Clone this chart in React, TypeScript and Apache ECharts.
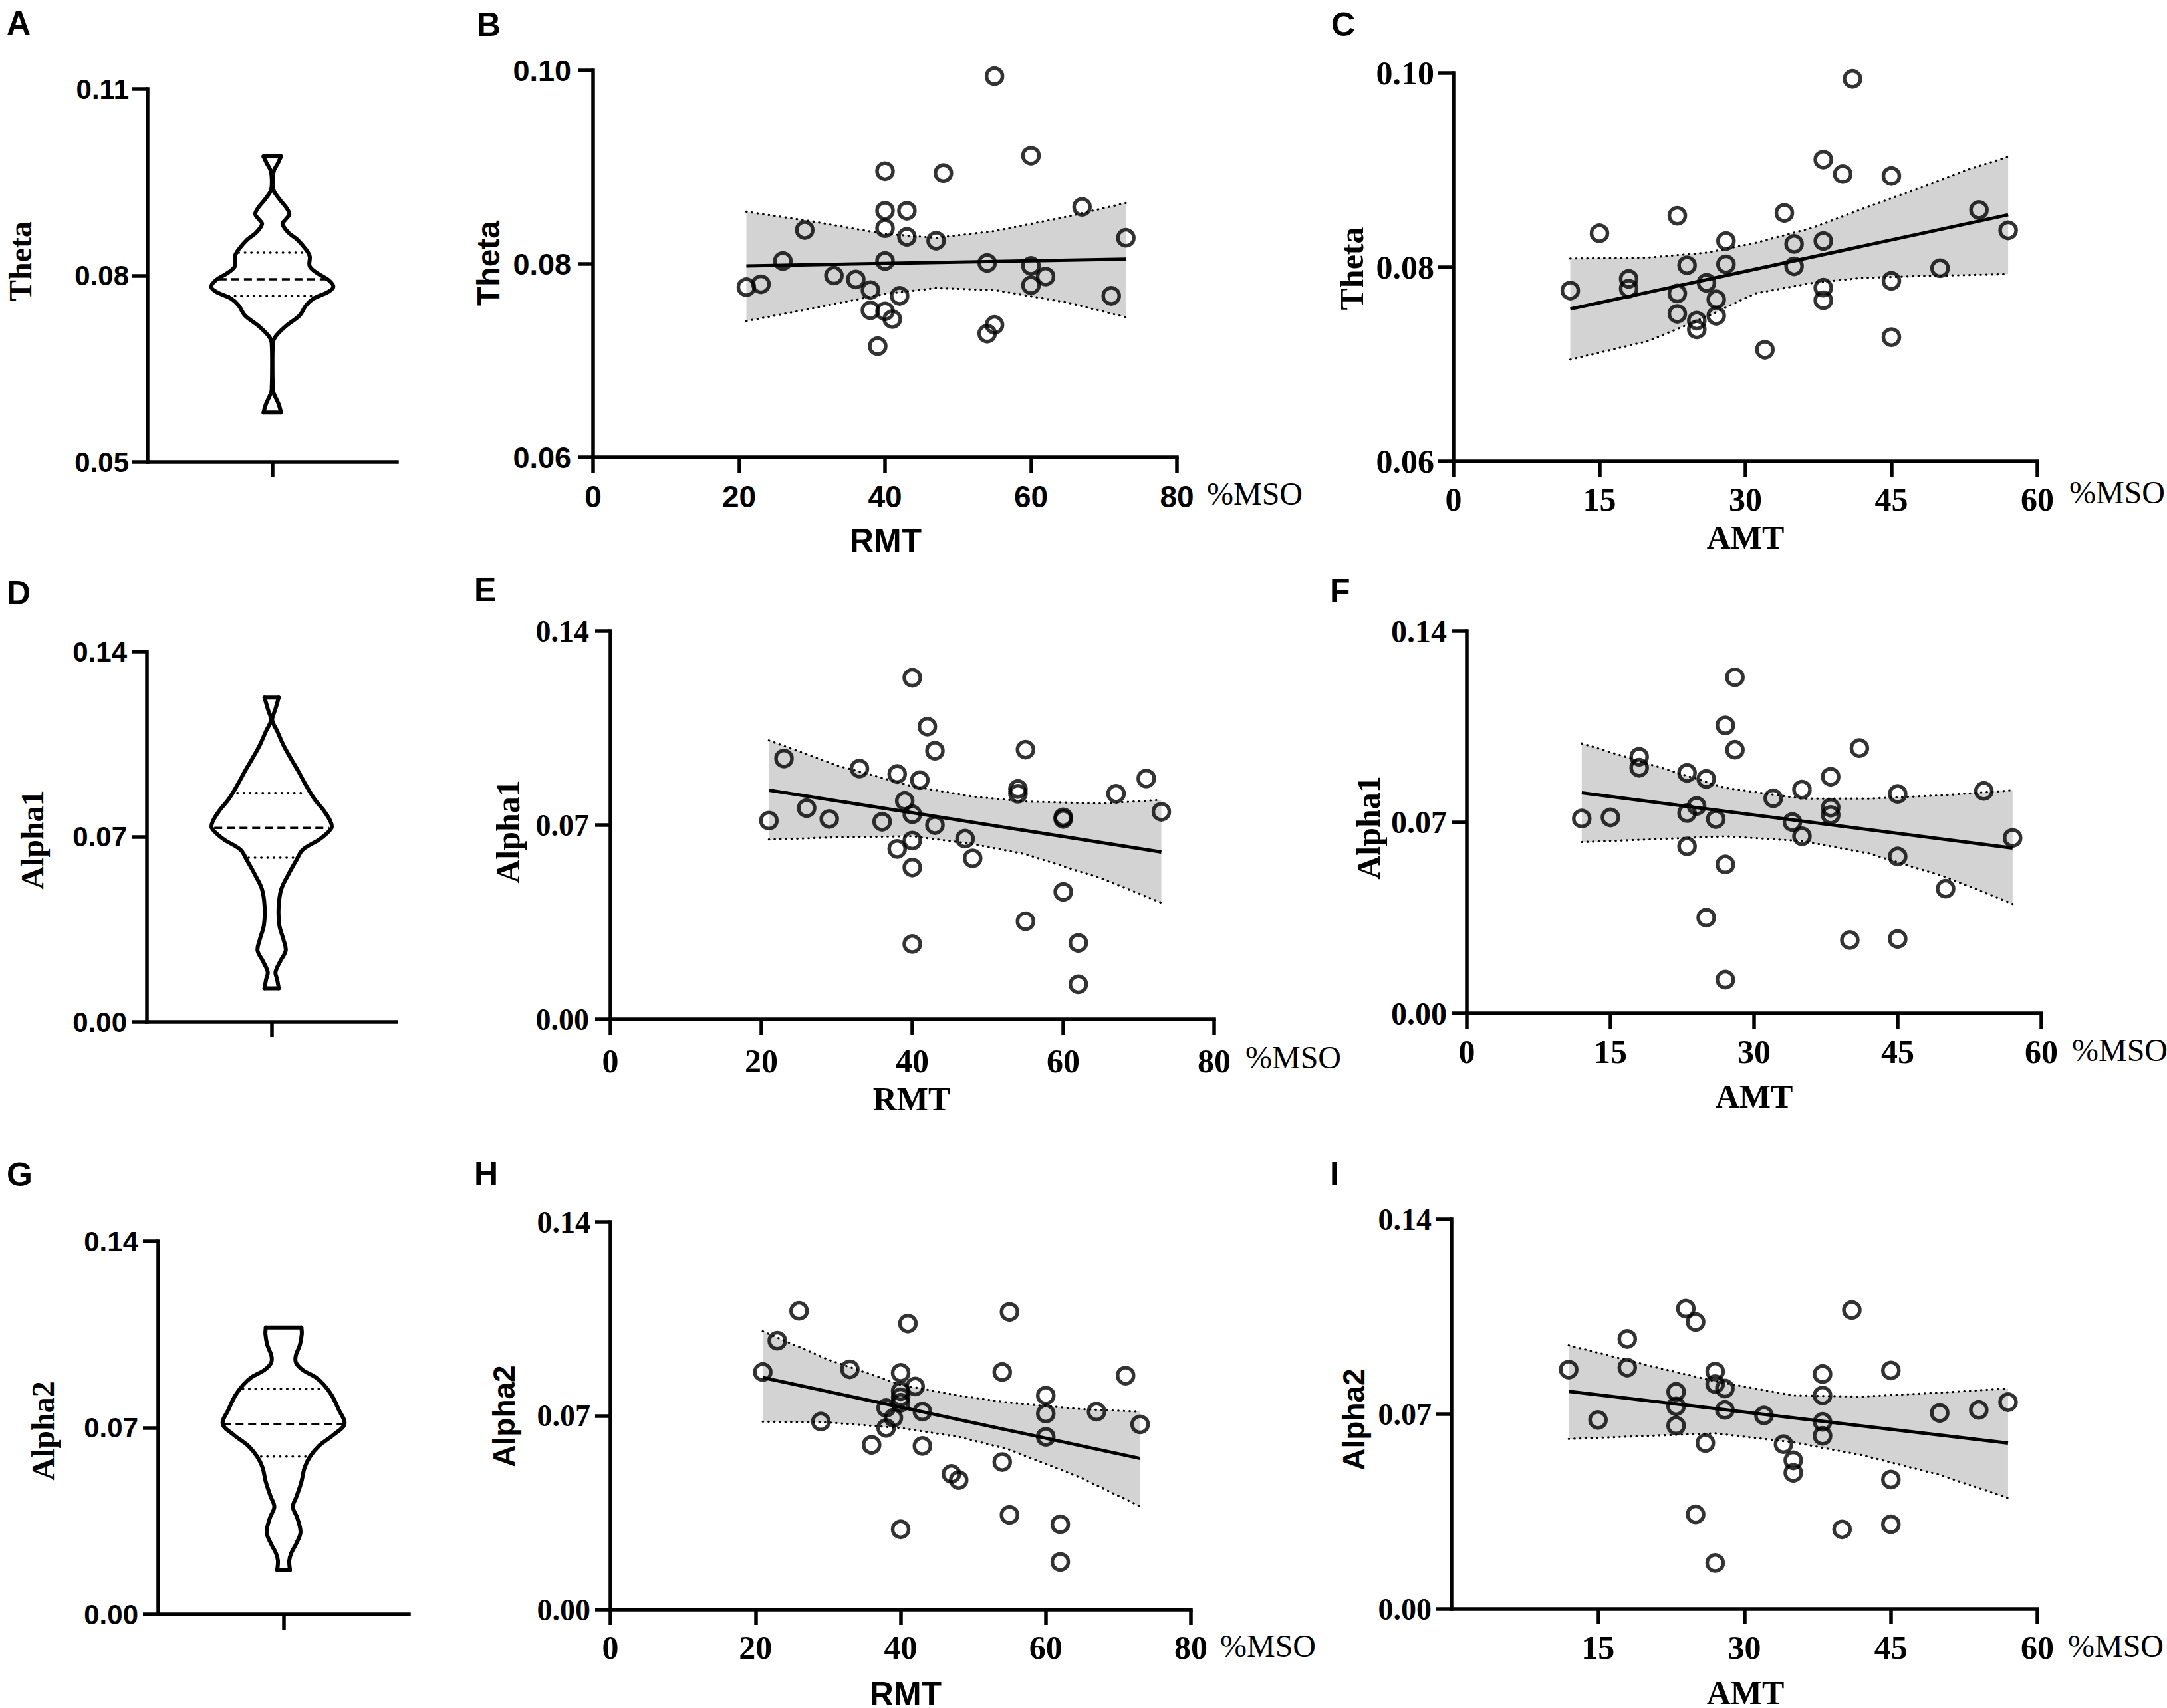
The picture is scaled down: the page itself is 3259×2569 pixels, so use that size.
import React, { useEffect, useRef } from "react";
import * as echarts from "echarts";

const W = 3259;
const H = 2569;

const SANS = "'Liberation Sans', Arial, Helvetica, sans-serif";
const NARROW = "'Liberation Sans Narrow', 'Liberation Sans', Arial, sans-serif";
const SERIF = "'Liberation Serif', 'Times New Roman', Times, serif";
const GRAY = "#d3d3d3";

// ---------- tick values ----------
const thetaViolinTicks = [0.05, 0.08, 0.11];
const thetaTicks = [0.06, 0.08, 0.1];
const alphaTicks = [0, 0.07, 0.14];
const rmtTicks = [0, 20, 40, 60, 80];
const amtTicks = [0, 15, 30, 45, 60];
const amtTicksNoZero = [15, 30, 45, 60];
const violinCenterTick = [0];

// ---------- violin profiles (value, half width in axis units) ----------
const thetaViolinY = [0.0992, 0.0981, 0.097, 0.0959, 0.0943, 0.0935, 0.0921, 0.091, 0.0899, 0.0891, 0.0883, 0.0869, 0.0858, 0.0842, 0.0831, 0.0815, 0.0804, 0.0793, 0.0782, 0.0774, 0.0763, 0.0752, 0.0736, 0.0719, 0.0703, 0.0692, 0.0616, 0.0607, 0.0594, 0.058];
const thetaViolinHW = [0.07, 0.045, 0.015, 0.005, 0.005, 0.015, 0.065, 0.11, 0.137, 0.11, 0.082, 0.13, 0.2, 0.27, 0.3, 0.3, 0.36, 0.45, 0.49, 0.45, 0.33, 0.27, 0.22, 0.11, 0.03, 0.005, 0.005, 0.02, 0.05, 0.07];
const thetaQuartY = [0.0837, 0.0794, 0.0767];
const thetaQuartHW = [0.27, 0.43, 0.35];

const alpha1ViolinY = [0.1226, 0.1182, 0.1141, 0.11, 0.1046, 0.0991, 0.0951, 0.0896, 0.0842, 0.0801, 0.076, 0.0733, 0.0692, 0.0651, 0.061, 0.0556, 0.0501, 0.0433, 0.0365, 0.0311, 0.027, 0.0229, 0.0188, 0.0161, 0.0127];
const alpha1ViolinHW = [0.057, 0.03, 0.005, 0.044, 0.095, 0.16, 0.21, 0.274, 0.344, 0.415, 0.47, 0.48, 0.39, 0.25, 0.197, 0.133, 0.077, 0.056, 0.062, 0.095, 0.113, 0.069, 0.031, 0.044, 0.057];
const alpha1QuartY = [0.0865, 0.0733, 0.0621];
const alpha1QuartHW = [0.275, 0.46, 0.185];

const alpha2ViolinY = [0.1076, 0.1051, 0.1011, 0.097, 0.0943, 0.0916, 0.0889, 0.0862, 0.0822, 0.0768, 0.0714, 0.0673, 0.0632, 0.0592, 0.0551, 0.0497, 0.0443, 0.0403, 0.0362, 0.0308, 0.0268, 0.0227, 0.02, 0.0166];
const alpha2ViolinHW = [0.142, 0.145, 0.13, 0.097, 0.1, 0.155, 0.257, 0.32, 0.384, 0.44, 0.486, 0.397, 0.282, 0.211, 0.168, 0.142, 0.104, 0.074, 0.109, 0.135, 0.104, 0.059, 0.045, 0.051];
const alpha2QuartY = [0.0846, 0.0714, 0.0592];
const alpha2QuartHW = [0.325, 0.484, 0.18];

// ---------- scatter data ----------
const thetaRmtX = [21, 23, 26, 29, 33, 36, 38, 38, 39, 40, 40, 40, 40, 40, 41, 42, 43, 43, 47, 48, 54, 54, 55, 55, 60, 60, 60, 62, 67, 71, 73];
const thetaRmtY = [0.0776, 0.0779, 0.0803, 0.0835, 0.0788, 0.0784, 0.0773, 0.0752, 0.0715, 0.0896, 0.0855, 0.0837, 0.0803, 0.0751, 0.0743, 0.0767, 0.0855, 0.0828, 0.0824, 0.0894, 0.0801, 0.0728, 0.0737, 0.0994, 0.0912, 0.0798, 0.0778, 0.0787, 0.0859, 0.0767, 0.0827];
const thetaRmtFitX = [21, 73];
const thetaRmtFitY = [0.0798, 0.0805];
const thetaRmtBandX = [21, 30, 40, 47, 55, 65, 73];
const thetaRmtBandUp = [0.0854, 0.0844, 0.0831, 0.0827, 0.0834, 0.0849, 0.0863];
const thetaRmtBandLo = [0.0741, 0.0754, 0.0769, 0.0775, 0.0773, 0.076, 0.0745];

const thetaAmtX = [12, 15, 18, 18, 23, 23, 23, 24, 25, 25, 26, 27, 27, 28, 28, 32, 34, 35, 35, 38, 38, 38, 38, 40, 41, 45, 45, 45, 50, 54, 57];
const thetaAmtY = [0.0776, 0.0835, 0.0788, 0.0778, 0.0853, 0.0773, 0.0752, 0.0802, 0.0745, 0.0736, 0.0784, 0.0767, 0.075, 0.0827, 0.0803, 0.0715, 0.0856, 0.0824, 0.0801, 0.0911, 0.0827, 0.0779, 0.0766, 0.0896, 0.0994, 0.0894, 0.0786, 0.0728, 0.0799, 0.0859, 0.0838];
const thetaAmtFitX = [12, 57];
const thetaAmtFitY = [0.0757, 0.0854];
const thetaAmtBandX = [12, 20, 26, 31, 37, 42, 48, 53, 57];
const thetaAmtBandUp = [0.0809, 0.081, 0.0815, 0.0825, 0.0841, 0.086, 0.0882, 0.0901, 0.0914];
const thetaAmtBandLo = [0.0705, 0.0724, 0.0749, 0.0773, 0.0784, 0.0789, 0.0791, 0.0792, 0.0793];

const alpha1RmtX = [21, 23, 26, 29, 33, 36, 38, 38, 39, 40, 40, 40, 40, 40, 41, 42, 43, 43, 47, 48, 54, 54, 55, 55, 60, 60, 60, 62, 62, 67, 71, 73];
const alpha1RmtY = [0.0716, 0.094, 0.0761, 0.0722, 0.0904, 0.0712, 0.0884, 0.0614, 0.0787, 0.1231, 0.0739, 0.0644, 0.0547, 0.0271, 0.0862, 0.1055, 0.0968, 0.07, 0.0651, 0.058, 0.083, 0.0813, 0.0972, 0.0353, 0.0728, 0.0722, 0.0459, 0.0275, 0.0126, 0.0813, 0.0868, 0.0748];
const alpha1RmtFitX = [21, 73];
const alpha1RmtFitY = [0.0826, 0.0603];
const alpha1RmtBandX = [21, 30, 40, 48, 55, 65, 73];
const alpha1RmtBandUp = [0.1005, 0.0915, 0.084, 0.0803, 0.0785, 0.0778, 0.0791];
const alpha1RmtBandLo = [0.0648, 0.0656, 0.066, 0.0632, 0.0595, 0.0508, 0.042];

const alpha1AmtX = [12, 15, 18, 18, 23, 23, 23, 24, 25, 25, 26, 27, 27, 27, 28, 28, 32, 34, 35, 35, 38, 38, 38, 40, 41, 45, 45, 45, 50, 54, 57];
const alpha1AmtY = [0.0713, 0.0717, 0.0939, 0.0899, 0.088, 0.0733, 0.0611, 0.0759, 0.0858, 0.035, 0.0711, 0.1054, 0.0545, 0.0123, 0.123, 0.0965, 0.0787, 0.07, 0.0819, 0.0648, 0.0866, 0.0753, 0.0726, 0.0268, 0.0971, 0.0803, 0.0574, 0.0272, 0.0456, 0.0814, 0.0642];
const alpha1AmtFitX = [12, 57];
const alpha1AmtFitY = [0.0807, 0.0605];
const alpha1AmtBandX = [12, 20, 27, 35, 42, 50, 57];
const alpha1AmtBandUp = [0.0988, 0.0902, 0.0825, 0.0786, 0.0786, 0.0799, 0.0816];
const alpha1AmtBandLo = [0.0627, 0.0638, 0.0648, 0.0631, 0.0585, 0.0499, 0.04];

const alpha2RmtX = [21, 23, 26, 29, 33, 36, 38, 38, 39, 40, 40, 40, 40, 40, 41, 42, 43, 43, 47, 48, 54, 54, 55, 55, 60, 60, 60, 62, 62, 67, 71, 73];
const alpha2RmtY = [0.0858, 0.0971, 0.1079, 0.0679, 0.0868, 0.0595, 0.0728, 0.0656, 0.0693, 0.0855, 0.0789, 0.0767, 0.0747, 0.029, 0.1033, 0.0806, 0.0715, 0.0591, 0.049, 0.0468, 0.0858, 0.0533, 0.1075, 0.0342, 0.0773, 0.0708, 0.0624, 0.0308, 0.0172, 0.0715, 0.0845, 0.0669];
const alpha2RmtFitX = [21, 73];
const alpha2RmtFitY = [0.0838, 0.0546];
const alpha2RmtBandX = [21, 30, 40, 48, 55, 65, 73];
const alpha2RmtBandUp = [0.1005, 0.0903, 0.0812, 0.0773, 0.0747, 0.0724, 0.0715];
const alpha2RmtBandLo = [0.0679, 0.0676, 0.0656, 0.0624, 0.0578, 0.0474, 0.0373];

const alpha2AmtX = [12, 15, 18, 18, 23, 23, 23, 24, 25, 25, 26, 27, 27, 27, 28, 28, 32, 34, 35, 35, 38, 38, 38, 38, 40, 41, 45, 45, 45, 50, 54, 57];
const alpha2AmtY = [0.086, 0.0679, 0.097, 0.0867, 0.078, 0.0728, 0.0659, 0.1079, 0.1031, 0.034, 0.0596, 0.0853, 0.0808, 0.0165, 0.0792, 0.0715, 0.0695, 0.0592, 0.0534, 0.0489, 0.0844, 0.0767, 0.0672, 0.0622, 0.0286, 0.1074, 0.0857, 0.0465, 0.0304, 0.0704, 0.0715, 0.0743];
const alpha2AmtFitX = [12, 57];
const alpha2AmtFitY = [0.0782, 0.0596];
const alpha2AmtBandX = [12, 20, 27, 35, 42, 50, 57];
const alpha2AmtBandUp = [0.0947, 0.0876, 0.0818, 0.0767, 0.0763, 0.0777, 0.0792];
const alpha2AmtBandLo = [0.0611, 0.0622, 0.0631, 0.0599, 0.0553, 0.0482, 0.0398];

// ---------- layout (pixels) ----------
const grids = [
  { left: 222, top: 134, width: 375, height: 561 }, // A
  { left: 892, top: 106, width: 878, height: 582 }, // B
  { left: 2186, top: 110, width: 878, height: 584 }, // C
  { left: 221, top: 980, width: 375, height: 557 }, // D
  { left: 918, top: 949, width: 908, height: 584 }, // E
  { left: 2206, top: 949, width: 864, height: 575 }, // F
  { left: 238, top: 1867, width: 377, height: 561 }, // G
  { left: 918, top: 1838, width: 873, height: 583 }, // H
  { left: 2183, top: 1834, width: 881, height: 586 }, // I
];

const AXW = 5.5;
const TICKLEN = 23;

function xAxisOf(gi: number, min: number, max: number, ticks: number[], font: string, size: number, margin: number, showLabel = true) {
  return {
    type: "value",
    gridIndex: gi,
    min,
    max,
    position: "bottom",
    axisLine: { show: true, onZero: false, lineStyle: { color: "#000", width: AXW, cap: "square" } },
    axisTick: { show: true, inside: false, length: TICKLEN, customValues: ticks, lineStyle: { color: "#000", width: AXW } },
    axisLabel: {
      show: showLabel,
      customValues: ticks,
      margin,
      color: "#000",
      fontFamily: font,
      fontWeight: "bold",
      fontSize: size,
      showMinLabel: true,
      showMaxLabel: true,
      formatter: (v: number) => String(v),
    },
    splitLine: { show: false },
  };
}

function yAxisOf(gi: number, min: number, max: number, ticks: number[], font: string, size: number, margin = 30) {
  return {
    type: "value",
    gridIndex: gi,
    min,
    max,
    position: "left",
    axisLine: { show: true, onZero: false, lineStyle: { color: "#000", width: AXW, cap: "square" } },
    axisTick: { show: true, inside: false, length: TICKLEN, customValues: ticks, lineStyle: { color: "#000", width: AXW } },
    axisLabel: {
      show: true,
      customValues: ticks,
      margin,
      color: "#000",
      fontFamily: font,
      fontWeight: "bold",
      fontSize: size,
      showMinLabel: true,
      showMaxLabel: true,
      formatter: (v: number) => v.toFixed(2),
    },
    splitLine: { show: false },
  };
}

function violinSeries(gi: number, vy: number[], vhw: number[], qy: number[], qhw: number[]) {
  return {
    type: "custom",
    coordinateSystem: "cartesian2d",
    xAxisIndex: gi,
    yAxisIndex: gi,
    silent: true,
    z: 3,
    data: vy.map((y, i) => [vhw[i], y]),
    renderItem: (params: any, api: any) => {
      if (params.dataIndex !== 0) return null;
      const n = vy.length;
      const right = vy.map((y, i) => api.coord([vhw[i], y]));
      const left = vy.map((y, i) => api.coord([-vhw[i], y]));
      const outline = { stroke: "#000", lineWidth: 6, fill: "none", lineJoin: "round", lineCap: "round" };
      const children: any[] = [
        { type: "polyline", shape: { points: right, smooth: 0.35 }, style: outline },
        { type: "polyline", shape: { points: left, smooth: 0.35 }, style: outline },
        { type: "line", shape: { x1: left[0][0], y1: left[0][1], x2: right[0][0], y2: right[0][1] }, style: outline },
        { type: "line", shape: { x1: left[n - 1][0], y1: left[n - 1][1], x2: right[n - 1][0], y2: right[n - 1][1] }, style: outline },
      ];
      qy.forEach((q, i) => {
        const a = api.coord([-qhw[i], q]);
        const b = api.coord([qhw[i], q]);
        const median = i === 1;
        children.push({
          type: "line",
          shape: { x1: a[0], y1: a[1], x2: b[0], y2: b[1] },
          style: {
            stroke: "#000",
            lineWidth: 3.5,
            lineDash: median ? [12, 7] : [0.5, 9],
            lineCap: median ? "butt" : "round",
          },
        });
      });
      return { type: "group", children };
    },
  };
}

function scatterSeries(gi: number, xs: number[], ys: number[], fx: number[], fy: number[], bx: number[], bu: number[], bl: number[]) {
  const band = {
    type: "custom",
    coordinateSystem: "cartesian2d",
    xAxisIndex: gi,
    yAxisIndex: gi,
    silent: true,
    z: 1,
    data: bx.map((x, i) => [x, bl[i], bu[i]]),
    renderItem: (params: any, api: any) => {
      if (params.dataIndex !== 0) return null;
      const up = bx.map((x, i) => api.coord([x, bu[i]]));
      const lo = bx.map((x, i) => api.coord([x, bl[i]]));
      const poly = up.concat(lo.slice().reverse());
      const dot = { stroke: "#000", lineWidth: 3.2, fill: "none", lineDash: [0.5, 8], lineCap: "round" };
      return {
        type: "group",
        children: [
          { type: "polygon", shape: { points: poly }, style: { fill: GRAY, stroke: "none" } },
          { type: "polyline", shape: { points: up }, style: dot },
          { type: "polyline", shape: { points: lo }, style: dot },
        ],
      };
    },
  };
  const fit = {
    type: "line",
    xAxisIndex: gi,
    yAxisIndex: gi,
    silent: true,
    z: 3,
    symbol: "none",
    data: fx.map((x, i) => [x, fy[i]]),
    lineStyle: { color: "#000", width: 5 },
  };
  const pts = {
    type: "scatter",
    xAxisIndex: gi,
    yAxisIndex: gi,
    silent: true,
    z: 4,
    symbol: "circle",
    symbolSize: 24,
    data: xs.map((x, i) => [x, ys[i]]),
    itemStyle: { color: "rgba(0,0,0,0)", borderColor: "#000", borderWidth: 5.5 },
  };
  return [band, fit, pts];
}

function textEl(text: string, x: number, y: number, font: string, size: number, weight: string, align = "center", rotate = false) {
  return {
    type: "text",
    x,
    y,
    rotation: rotate ? Math.PI / 2 : 0,
    silent: true,
    style: {
      text,
      fill: "#000",
      font: `${weight} ${size}px ${font}`,
      align,
      verticalAlign: "middle",
    },
  };
}

const panelLetters: [string, number, number][] = [
  ["A", 10, 35], ["B", 717, 37], ["C", 2002, 37],
  ["D", 10, 892], ["E", 713, 887], ["F", 2000, 889],
  ["G", 10, 1767], ["H", 713, 1766], ["I", 2000, 1766],
];

const yNames: [string, number, number, string, number][] = [
  ["Theta", 30, 393, SERIF, 48],
  ["Theta", 734, 396, SANS, 48],
  ["Theta", 2033, 404, SERIF, 50],
  ["Alpha1", 48, 1263, SERIF, 48],
  ["Alpha1", 764, 1251, SERIF, 50],
  ["Alpha1", 2058, 1245, SERIF, 50],
  ["Alpha2", 64, 2152, SERIF, 48],
  ["Alpha2", 758, 2130, SANS, 46],
  ["Alpha2", 2036, 2135, SANS, 46],
];

const xNames: [string, number, number, string, number][] = [
  ["RMT", 1332, 813, NARROW, 50],
  ["AMT", 2625, 808, SERIF, 50],
  ["RMT", 1371, 1653, SERIF, 50],
  ["AMT", 2638, 1649, SERIF, 50],
  ["RMT", 1362, 2548, NARROW, 50],
  ["AMT", 2625, 2546, SERIF, 50],
];

const unitPos: [number, number][] = [
  [1815, 742], [3112, 740], [1873, 1590], [3116, 1579], [1835, 2475], [3110, 2475],
];

export default function App() {
  const ref = useRef<HTMLDivElement>(null);

  useEffect(() => {
    document.body.style.margin = "0";
    if (!ref.current) return;
    const chart = echarts.init(ref.current, undefined, { renderer: "svg", width: W, height: H });

    const xAxis = [
      xAxisOf(0, -1, 1, violinCenterTick, SANS, 42, 30, false),
      xAxisOf(1, 0, 80, rmtTicks, SANS, 46, 36),
      xAxisOf(2, 0, 60, amtTicks, SERIF, 50, 32),
      xAxisOf(3, -1, 1, violinCenterTick, SANS, 42, 30, false),
      xAxisOf(4, 0, 80, rmtTicks, SERIF, 50, 38),
      xAxisOf(5, 0, 60, amtTicks, SERIF, 50, 33),
      xAxisOf(6, -1, 1, violinCenterTick, SANS, 42, 30, false),
      xAxisOf(7, 0, 80, rmtTicks, SERIF, 50, 32),
      xAxisOf(8, 0, 60, amtTicksNoZero, SERIF, 50, 33),
    ];
    const yAxis = [
      yAxisOf(0, 0.05, 0.11, thetaViolinTicks, SANS, 42, 28),
      yAxisOf(1, 0.06, 0.1, thetaTicks, SANS, 45, 33),
      yAxisOf(2, 0.06, 0.1, thetaTicks, SERIF, 50, 29),
      yAxisOf(3, 0, 0.14, alphaTicks, SANS, 42, 30),
      yAxisOf(4, 0, 0.14, alphaTicks, SERIF, 46, 32),
      yAxisOf(5, 0, 0.14, alphaTicks, SERIF, 48, 30),
      yAxisOf(6, 0, 0.14, alphaTicks, SANS, 42, 30),
      yAxisOf(7, 0, 0.14, alphaTicks, SERIF, 46, 30),
      yAxisOf(8, 0, 0.14, alphaTicks, SERIF, 46, 30),
    ];

    const series: any[] = [
      violinSeries(0, thetaViolinY, thetaViolinHW, thetaQuartY, thetaQuartHW),
      violinSeries(3, alpha1ViolinY, alpha1ViolinHW, alpha1QuartY, alpha1QuartHW),
      violinSeries(6, alpha2ViolinY, alpha2ViolinHW, alpha2QuartY, alpha2QuartHW),
      ...scatterSeries(1, thetaRmtX, thetaRmtY, thetaRmtFitX, thetaRmtFitY, thetaRmtBandX, thetaRmtBandUp, thetaRmtBandLo),
      ...scatterSeries(2, thetaAmtX, thetaAmtY, thetaAmtFitX, thetaAmtFitY, thetaAmtBandX, thetaAmtBandUp, thetaAmtBandLo),
      ...scatterSeries(4, alpha1RmtX, alpha1RmtY, alpha1RmtFitX, alpha1RmtFitY, alpha1RmtBandX, alpha1RmtBandUp, alpha1RmtBandLo),
      ...scatterSeries(5, alpha1AmtX, alpha1AmtY, alpha1AmtFitX, alpha1AmtFitY, alpha1AmtBandX, alpha1AmtBandUp, alpha1AmtBandLo),
      ...scatterSeries(7, alpha2RmtX, alpha2RmtY, alpha2RmtFitX, alpha2RmtFitY, alpha2RmtBandX, alpha2RmtBandUp, alpha2RmtBandLo),
      ...scatterSeries(8, alpha2AmtX, alpha2AmtY, alpha2AmtFitX, alpha2AmtFitY, alpha2AmtBandX, alpha2AmtBandUp, alpha2AmtBandLo),
    ];

    const elements: any[] = [];
    panelLetters.forEach(([t, x, y]) => elements.push(textEl(t, x, y, SANS, 50, "bold", "left")));
    yNames.forEach(([t, x, y, f, s]) => elements.push(textEl(t, x, y, f, s, "bold", "center", true)));
    xNames.forEach(([t, x, y, f, s]) => elements.push(textEl(t, x, y, f, s, "bold", "center")));
    unitPos.forEach(([x, y]) => elements.push(textEl("%MSO", x, y, SERIF, 48, "normal", "left")));

    chart.setOption({
      animation: false,
      backgroundColor: "#ffffff",
      grid: grids.map((g) => ({ ...g, containLabel: false })),
      xAxis,
      yAxis,
      series,
      graphic: { elements },
    });

    return () => {
      chart.dispose();
    };
  }, []);

  return <div ref={ref} style={{ width: W, height: H, overflow: "hidden" }} />;
}
